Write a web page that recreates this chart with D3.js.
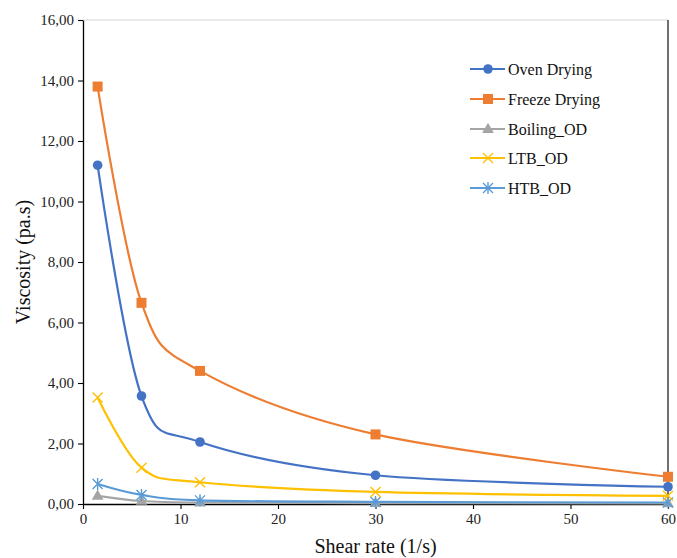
<!DOCTYPE html>
<html>
<head>
<meta charset="utf-8">
<script src="https://cdn.jsdelivr.net/npm/d3@7"></script>
<style>
  body { margin: 0; background: #fff; }
  svg { display: block; font-family: "Liberation Serif", "Times New Roman", serif; }
</style>
</head>
<body>
<svg id="chart" width="677" height="558"></svg>
<script>
// data
var shearRate = [1.5, 6, 12, 30, 60];
var ovenDrying = [11.2, 3.57, 2.05, 0.95, 0.57];
var freezeDrying = [13.8, 6.65, 4.4, 2.3, 0.9];
var boilingOD = [0.27, 0.1, 0.05, 0.03, 0.02];
var ltbOD = [3.52, 1.2, 0.72, 0.4, 0.27];
var htbOD = [0.66, 0.3, 0.12, 0.07, 0.05];
var seriesNames = ["Oven Drying", "Freeze Drying", "Boiling_OD", "LTB_OD", "HTB_OD"];
var xTicks = [0, 10, 20, 30, 40, 50, 60];
var yTicks = [0, 2, 4, 6, 8, 10, 12, 14, 16];

var colors = ["#4472C4", "#ED7D31", "#A5A5A5", "#FFC000", "#5B9BD5"];
var markers = ["circle", "square", "triangle", "x", "star"];
var allValues = [ovenDrying, freezeDrying, boilingOD, ltbOD, htbOD];

var plotLeft = 83, plotRight = 668, plotTop = 20, plotBottom = 504;
var svg = d3.select("#chart");

var x = d3.scaleLinear().domain([0, 60]).range([plotLeft, plotRight]);
var y = d3.scaleLinear().domain([0, 16]).range([plotBottom, plotTop]);

var comma = d3.formatLocale({decimal: ",", thousands: ".", grouping: [3], currency: ["", ""]});
var fmt = comma.format(".2f");

// frame top & right
svg.append("line").attr("x1", plotLeft).attr("x2", plotRight).attr("y1", plotTop).attr("y2", plotTop)
  .attr("stroke", "#d4d4d4").attr("stroke-width", 1);
svg.append("line").attr("x1", plotRight).attr("x2", plotRight).attr("y1", plotTop).attr("y2", plotBottom)
  .attr("stroke", "#404040").attr("stroke-width", 1.5);

// axes
var xAxis = svg.append("g").attr("transform", "translate(0," + plotBottom + ")")
  .call(d3.axisBottom(x).tickValues(xTicks).tickSize(5).tickSizeOuter(0).tickPadding(4));
var yAxis = svg.append("g").attr("transform", "translate(" + plotLeft + ",0)")
  .call(d3.axisLeft(y).tickValues(yTicks).tickSize(5).tickSizeOuter(0).tickFormat(fmt).tickPadding(4));

[xAxis, yAxis].forEach(function(g) {
  g.attr("font-family", null).attr("font-size", null);
  g.select(".domain").attr("stroke", "#000").attr("stroke-width", 1.3);
  g.selectAll(".tick line").attr("stroke", "#000").attr("stroke-width", 1.1);
  g.selectAll(".tick text").attr("fill", "#222").style("font-size", "15px");
});

// titles
svg.append("text").attr("x", (plotLeft + plotRight) / 2).attr("y", 553).attr("text-anchor", "middle")
  .style("font-size", "20px").attr("fill", "#111").text("Shear rate (1/s)");
svg.append("text").attr("transform", "translate(30," + ((plotTop + plotBottom) / 2) + ") rotate(-90)")
  .attr("text-anchor", "middle").style("font-size", "20px").attr("fill", "#111")
  .text("Viscosity (pa.s)");

function drawMarker(g, type, cx, cy, color) {
  var s = 5;
  if (type == "circle") {
    g.append("circle").attr("cx", cx).attr("cy", cy).attr("r", 4.8).attr("fill", color);
  } else if (type == "square") {
    g.append("rect").attr("x", cx - 5).attr("y", cy - 5).attr("width", 10).attr("height", 10).attr("fill", color);
  } else if (type == "triangle") {
    g.append("path").attr("d", d3.symbol(d3.symbolTriangle, 60)())
      .attr("transform", "translate(" + cx + "," + (cy + 0.5) + ")").attr("fill", color);
  } else if (type == "x") {
    g.append("path").attr("d", "M" + (cx - s) + "," + (cy - s) + "L" + (cx + s) + "," + (cy + s) +
      "M" + (cx - s) + "," + (cy + s) + "L" + (cx + s) + "," + (cy - s))
      .attr("stroke", color).attr("stroke-width", 1.4).attr("fill", "none");
  } else {
    g.append("path").attr("d", "M" + (cx - s) + "," + (cy - s) + "L" + (cx + s) + "," + (cy + s) +
      "M" + (cx - s) + "," + (cy + s) + "L" + (cx + s) + "," + (cy - s) +
      "M" + cx + "," + (cy - s - 1) + "L" + cx + "," + (cy + s + 1))
      .attr("stroke", color).attr("stroke-width", 1.4).attr("fill", "none");
  }
}

var line = d3.line()
  .x(function(d) { return x(d[0]); })
  .y(function(d) { return y(d[1]); })
  .curve(d3.curveCardinal.tension(0));

// series drawn back to front like the original
[2, 4, 3, 0, 1].forEach(function(i) {
  var pts = shearRate.map(function(s, k) { return [s, allValues[i][k]]; });
  var g = svg.append("g");
  g.append("path").attr("d", line(pts)).attr("fill", "none")
    .attr("stroke", colors[i]).attr("stroke-width", 2.2);
  pts.forEach(function(p) { drawMarker(g, markers[i], x(p[0]), y(p[1]), colors[i]); });
});

// legend
var legendY = [69, 99, 129, 158, 188];
seriesNames.forEach(function(name, i) {
  var g = svg.append("g");
  g.append("line").attr("x1", 470).attr("x2", 505).attr("y1", legendY[i]).attr("y2", legendY[i])
    .attr("stroke", colors[i]).attr("stroke-width", 2.2);
  drawMarker(g, markers[i], 488, legendY[i], colors[i]);
  g.append("text").attr("x", 508).attr("y", legendY[i]).attr("dy", "0.35em")
    .style("font-size", "16px").attr("fill", "#111").text(name);
});
</script>
</body>
</html>
